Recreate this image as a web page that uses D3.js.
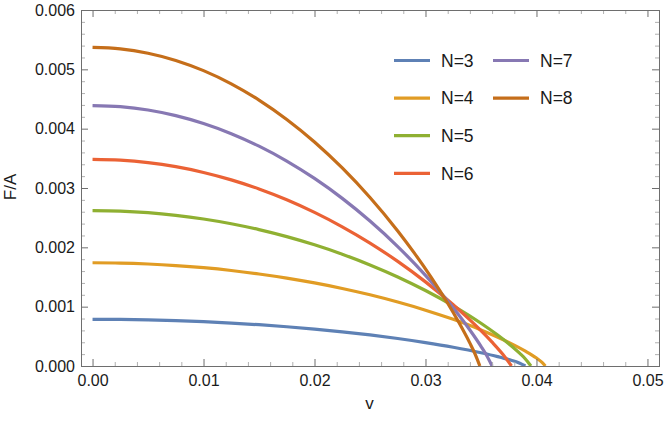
<!DOCTYPE html>
<html>
<head>
<meta charset="utf-8">
<script src="https://cdn.jsdelivr.net/npm/d3@7"></script>
<style>
  html, body { margin:0; padding:0; background:#fff; }
  svg { display:block; font-family:"Liberation Sans", Arial, sans-serif; }
</style>
</head>
<body>
<svg id="chart" width="664" height="424"></svg>
<script>
// F/A against v, one curve per N.
var SERIES = ['N=3','N=4','N=5','N=6','N=7','N=8'];
var COLORS = ['#5e81b5','#e19c24','#8fb032','#eb6235','#8778b3','#c56e1a'];

var N3 = [[0,0.000787],[0.0025,0.000785],[0.005,0.000777],[0.0075,0.000765],[0.01,0.000747],
          [0.0125,0.000724],[0.015,0.000696],[0.0175,0.000662],[0.02,0.000622],[0.0225,0.000576],
          [0.025,0.000524],[0.0275,0.000464],[0.03,0.000395],[0.0325,0.000316],[0.035,0.000223],
          [0.0365,0.000158],[0.0375,0.000108],[0.0385,0.000047],[0.039,0]];
var N4 = [[0,0.00174],[0.0025,0.001735],[0.005,0.001719],[0.0075,0.001693],[0.01,0.001657],
          [0.0125,0.00161],[0.015,0.001551],[0.0175,0.001482],[0.02,0.0014],[0.0225,0.001307],
          [0.025,0.0012],[0.0275,0.001078],[0.03,0.000941],[0.0325,0.000786],[0.035,0.000608],
          [0.0375,0.000399],[0.039,0.000251],[0.04,0.000134],[0.0405,0.000062],[0.0408,0]];
var N5 = [[0,0.00262],[0.0025,0.002611],[0.005,0.002585],[0.0075,0.00254],[0.01,0.002478],
          [0.0125,0.002398],[0.015,0.002299],[0.0175,0.002181],[0.02,0.002043],[0.0225,0.001885],
          [0.025,0.001704],[0.0275,0.001501],[0.03,0.001272],[0.0325,0.001014],[0.035,0.00072],
          [0.0365,0.000521],[0.0375,0.000375],[0.0385,0.000212],[0.039,0.000119],[0.0395,0]];
var N6 = [[0,0.003483],[0.0025,0.003469],[0.005,0.003428],[0.0075,0.003359],[0.01,0.003262],
          [0.0125,0.003137],[0.015,0.002984],[0.0175,0.002802],[0.02,0.002589],[0.0225,0.002346],
          [0.025,0.002072],[0.0275,0.001763],[0.03,0.001418],[0.0325,0.001032],[0.034,0.000777],
          [0.035,0.000595],[0.036,0.000401],[0.037,0.000189],[0.03775,0]];
var N7 = [[0,0.00439],[0.0025,0.004371],[0.005,0.004315],[0.0075,0.00422],[0.01,0.004087],
          [0.0125,0.003916],[0.015,0.003705],[0.0175,0.003454],[0.02,0.003161],[0.0225,0.002825],
          [0.025,0.002443],[0.0275,0.002013],[0.03,0.001528],[0.0315,0.001207],[0.033,0.000858],
          [0.034,0.000606],[0.035,0.000331],[0.0355,0.00018],[0.036,0]];
var N8 = [[0,0.00537],[0.0025,0.005346],[0.005,0.005272],[0.0075,0.00515],[0.01,0.004978],
          [0.0125,0.004756],[0.015,0.004482],[0.0175,0.004156],[0.02,0.003776],[0.0225,0.003338],
          [0.025,0.00284],[0.0275,0.002276],[0.029,0.001902],[0.0305,0.001498],[0.032,0.001057],
          [0.033,0.000736],[0.034,0.000385],[0.0345,0.000189],[0.0349,0]];
var CURVES = [N3, N4, N5, N6, N7, N8];

var X_MAJOR = [0, 0.01, 0.02, 0.03, 0.04, 0.05];
var Y_MAJOR = [0, 0.001, 0.002, 0.003, 0.004, 0.005, 0.006];

var svg = d3.select('#chart');
var L = 81, R = 659, T = 10, B = 366;
var x = d3.scaleLinear([-0.00104, 0.05104], [L, R]);
var y = d3.scaleLinear([0, 0.006], [B, T]);

function minors(major, step){
  var out = [], lo = major[0] - step*5, hi = major[major.length-1] + step*5;
  for (var i = 0; lo + i*step <= hi + 1e-12; i++){
    var v = +(lo + i*step).toFixed(6);
    if (major.indexOf(v) < 0) out.push(v);
  }
  return out;
}
var xMinor = minors(X_MAJOR, 0.002).filter(function(v){ return x(v) > L+0.5 && x(v) < R-0.5; });
var yMinor = minors(Y_MAJOR, 0.0002).filter(function(v){ return y(v) > T+0.5 && y(v) < B-0.5; });

svg.append('defs').append('clipPath').attr('id','plotclip')
  .append('rect').attr('x',L).attr('y',T).attr('width',R-L).attr('height',B-T);

// curves
var line = d3.line().x(function(d){ return x(d[0]); }).y(function(d){ return y(d[1]); })
  .curve(d3.curveMonotoneX);
svg.append('g').attr('clip-path','url(#plotclip)')
  .selectAll('path').data(CURVES).join('path')
  .attr('d', line).attr('fill','none')
  .attr('stroke', function(d,i){ return COLORS[i]; })
  .attr('stroke-width', 3.2).attr('stroke-linejoin','round');

// frame with inward ticks on all four sides
function styleAxis(g, col){
  g.select('.domain').remove();
  g.selectAll('.tick line').attr('stroke', col).attr('stroke-width', 1);
  g.selectAll('.tick text').attr('fill','#1a1a1a').attr('font-size', 16)
    .attr('font-family','"Liberation Sans", Arial, sans-serif');
}
var fx = d3.format('.2f'), fy = d3.format('.3f');

svg.append('g').attr('transform','translate(0,'+B+')')
  .call(d3.axisBottom(x).tickValues(xMinor).tickSize(-4).tickFormat(''))
  .call(styleAxis, '#b0b0b0');
svg.append('g').attr('transform','translate(0,'+T+')')
  .call(d3.axisTop(x).tickValues(xMinor).tickSize(-4).tickFormat(''))
  .call(styleAxis, '#b0b0b0');
svg.append('g').attr('transform','translate('+L+',0)')
  .call(d3.axisLeft(y).tickValues(yMinor).tickSize(-4).tickFormat(''))
  .call(styleAxis, '#b0b0b0');
svg.append('g').attr('transform','translate('+R+',0)')
  .call(d3.axisRight(y).tickValues(yMinor).tickSize(-4).tickFormat(''))
  .call(styleAxis, '#b0b0b0');

svg.append('g').attr('transform','translate(0,'+B+')')
  .call(d3.axisBottom(x).tickValues(X_MAJOR).tickSize(-7).tickPadding(9).tickFormat(fx))
  .call(styleAxis, '#6e6e6e');
svg.append('g').attr('transform','translate(0,'+T+')')
  .call(d3.axisTop(x).tickValues(X_MAJOR).tickSize(-7).tickFormat(''))
  .call(styleAxis, '#6e6e6e');
svg.append('g').attr('transform','translate('+L+',0)')
  .call(d3.axisLeft(y).tickValues(Y_MAJOR).tickSize(-7).tickPadding(6).tickFormat(fy))
  .call(styleAxis, '#6e6e6e');
svg.append('g').attr('transform','translate('+R+',0)')
  .call(d3.axisRight(y).tickValues(Y_MAJOR).tickSize(-7).tickFormat(''))
  .call(styleAxis, '#6e6e6e');

svg.append('rect').attr('x',L).attr('y',T).attr('width',R-L).attr('height',B-T)
  .attr('fill','none').attr('stroke','#6e6e6e').attr('stroke-width',1)
  .attr('shape-rendering','crispEdges');

// axis labels
svg.append('text').attr('x', (L+R)/2 - 0.5).attr('y', 409).attr('text-anchor','middle')
  .attr('font-size', 17).attr('fill','#1a1a1a').text('v');
svg.append('text').attr('transform','translate(16,187) rotate(-90)').attr('text-anchor','middle')
  .attr('font-size', 17).attr('fill','#1a1a1a').text('F/A');

// legend, two columns
var legend = svg.append('g').selectAll('g').data(SERIES).join('g')
  .attr('transform', function(d,i){
    var col = i < 4 ? 0 : 1, row = i < 4 ? i : i - 4;
    return 'translate(' + (394 + col*99) + ',' + (60.5 + row*37.6) + ')';
  });
legend.append('line').attr('x1',0).attr('x2',36).attr('y1',0).attr('y2',0)
  .attr('stroke', function(d,i){ return COLORS[i]; }).attr('stroke-width', 3.2);
legend.append('text').attr('x', 47).attr('y', 6.3).attr('font-size', 17.5)
  .attr('fill','#1a1a1a').text(function(d){ return d; });
</script>
</body>
</html>
